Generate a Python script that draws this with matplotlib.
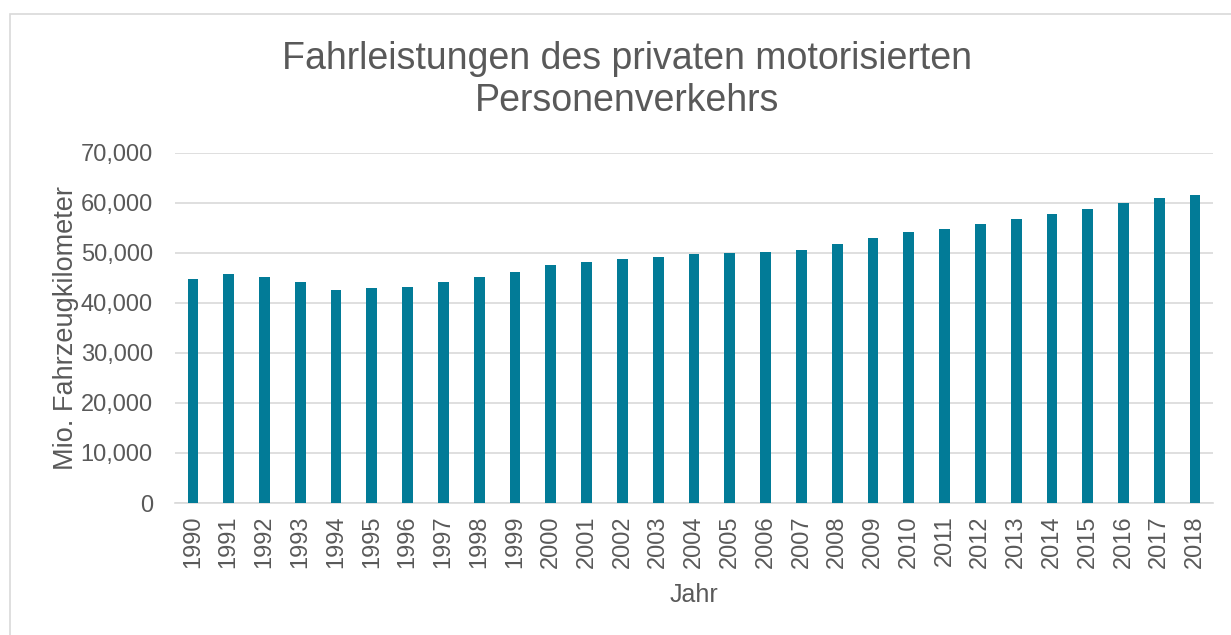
#!/usr/bin/env python3

import matplotlib
matplotlib.use("Agg")
import matplotlib.pyplot as plt
import matplotlib.patches as patches
from matplotlib.ticker import FuncFormatter, MultipleLocator
import numpy as np

# Fahrleistungen (Mio. Fahrzeugkilometer)
jahre = list(range(1990, 2019))
fahrleistung = [44700, 45800, 45100, 44200, 42600, 43000, 43300, 44200, 45100, 46200,
                47500, 48100, 48700, 49200, 49700, 49900, 50200, 50600, 51800, 53000,
                54100, 54700, 55700, 56700, 57700, 58700, 59900, 60900, 61500]

titel = "Fahrleistungen des privaten motorisierten\nPersonenverkehrs"
ylabel = "Mio. Fahrzeugkilometer"
xlabel = "Jahr"

bar_color = '#027B97'
text_color = '#595959'
grid_color = '#D9D9D9'

plt.rcParams['font.family'] = ['Liberation Sans', 'DejaVu Sans']

W, H = 1231, 635
fig = plt.figure(figsize=(W / 100, H / 100), dpi=100)

# grauer Rahmen (rechts und unten abgeschnitten)
rahmen = patches.Rectangle((9.5 / W, -0.1), 1.2, (H - 13.5) / H + 0.1,
                           transform=fig.transFigure, fill=False,
                           edgecolor=grid_color, linewidth=1.2)
fig.patches.append(rahmen)

ax = fig.add_axes([175 / W, 132 / H, (1213 - 175) / W, 350 / H])

x = np.arange(len(jahre))
ax.bar(x, fahrleistung, width=0.3, color=bar_color, zorder=3)

ax.set_xlim(-0.5, len(jahre) - 0.5)
ax.set_ylim(0, 70000)
ax.yaxis.set_major_locator(MultipleLocator(10000))
ax.yaxis.set_major_formatter(FuncFormatter(lambda v, p: "{:,.0f}".format(v)))
ax.set_xticks(x)
ax.set_xticklabels([str(j) for j in jahre], rotation=90)

ax.grid(axis='y', color=grid_color, linewidth=1.2, zorder=0)
for s in ['top', 'right', 'left']:
    ax.spines[s].set_visible(False)
ax.spines['bottom'].set_color(grid_color)
ax.spines['bottom'].set_linewidth(1.2)
ax.tick_params(axis='both', length=0, labelsize=17, labelcolor=text_color)
ax.tick_params(axis='y', pad=16)
ax.tick_params(axis='x', pad=9)

ax.set_ylabel(ylabel, fontsize=19.5, color=text_color, labelpad=1)
ax.set_xlabel(xlabel, fontsize=18, color=text_color, labelpad=11)

fig.text(627 / W, 1 - 80 / H, titel, ha='center', va='center', fontsize=27,
         color=text_color, linespacing=1.2)

plt.savefig("out.png", dpi=100)
